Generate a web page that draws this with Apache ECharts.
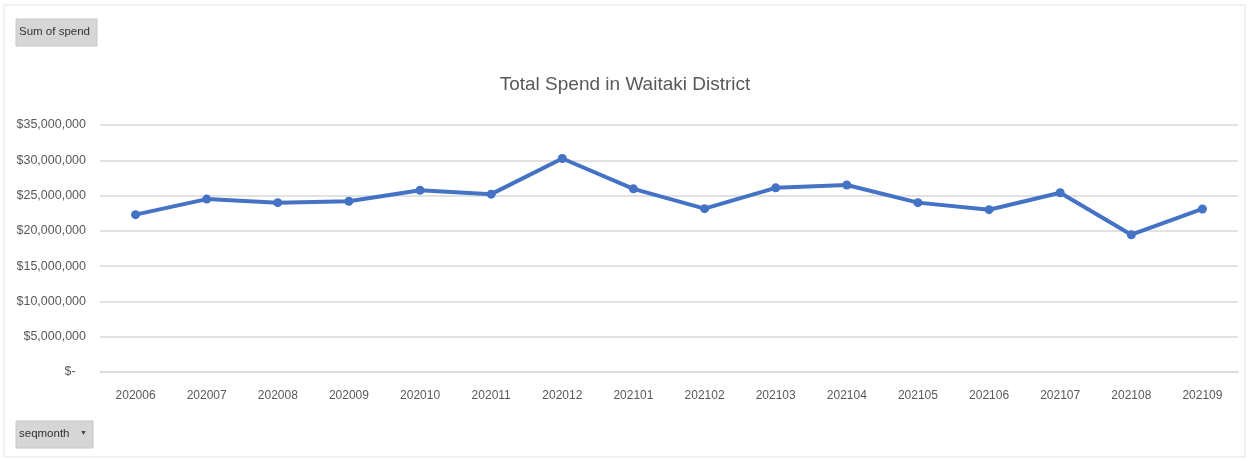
<!DOCTYPE html>
<html>
<head>
<meta charset="utf-8">
<script src="https://cdn.jsdelivr.net/npm/echarts@6/dist/echarts.min.js"></script>
<style>
  html, body { margin: 0; padding: 0; background: #fff; }
  #chart { width: 1250px; height: 461px; }
</style>
</head>
<body>
<div id="chart"></div>
<script>
// data
const months = ['202006', '202007', '202008', '202009', '202010', '202011', '202012', '202101',
  '202102', '202103', '202104', '202105', '202106', '202107', '202108', '202109']
const spend = [22300000, 24500000, 24000000, 24200000, 25750000, 25200000, 30250000, 25950000,
  23150000, 26100000, 26500000, 24000000, 23000000, 25400000, 19450000, 23100000]
const yMax = 35000000
const yStep = 5000000

const font = "'Liberation Sans Narrow', 'Liberation Sans', sans-serif"
const grey = '#595959'

const fmtMoney = (v) => {
  if (v === 0) return '$-   '
  return '$' + v.toLocaleString('en-US')
}

const chart = echarts.init(document.getElementById('chart'))
const option = {
  animation: false,
  title: {
    text: 'Total Spend in Waitaki District',
    left: 'center',
    top: 70,
    textStyle: { color: grey, fontFamily: font, fontSize: 19, fontWeight: 'normal' }
  },
  grid: { left: 100, right: 12, top: 125, bottom: 89 },
  xAxis: {
    type: 'category',
    data: months,
    boundaryGap: true,
    axisLine: { lineStyle: { color: '#d9d9d9', width: 1.5 } },
    axisTick: { show: false },
    axisLabel: { color: grey, fontFamily: font, fontSize: 12, margin: 18 }
  },
  yAxis: {
    type: 'value',
    min: 0,
    max: yMax,
    interval: yStep,
    axisLine: { show: false },
    axisTick: { show: false },
    splitLine: { lineStyle: { color: '#d9d9d9', width: 1.5 } },
    axisLabel: { color: grey, fontFamily: font, fontSize: 12.5, margin: 14, formatter: fmtMoney }
  },
  series: [{
    type: 'line',
    data: spend,
    symbol: 'circle',
    symbolSize: 9,
    lineStyle: { color: '#4472C4', width: 4 },
    itemStyle: { color: '#4472C4' }
  }],
  graphic: [
    {
      type: 'rect',
      shape: { x: 4, y: 5, width: 1241, height: 452 },
      style: { fill: 'none', stroke: '#e3e3e3', lineWidth: 1 },
      silent: true
    },
    {
      type: 'rect',
      shape: { x: 16, y: 19, width: 81, height: 27 },
      style: { fill: '#d6d6d6', stroke: '#c8c8c8', lineWidth: 1 }
    },
    {
      type: 'text',
      left: 19,
      top: 26,
      style: { text: 'Sum of spend', fill: '#333', font: '11.5px ' + font }
    },
    {
      type: 'rect',
      shape: { x: 16, y: 421, width: 77, height: 27 },
      style: { fill: '#d6d6d6', stroke: '#c8c8c8', lineWidth: 1 }
    },
    {
      type: 'text',
      left: 19,
      top: 428,
      style: { text: 'seqmonth', fill: '#333', font: '11.5px ' + font }
    },
    {
      type: 'text',
      left: 80,
      top: 430,
      style: { text: '▼', fill: '#444', font: '7px ' + font }
    }
  ]
}
chart.setOption(option)
</script>
</body>
</html>
